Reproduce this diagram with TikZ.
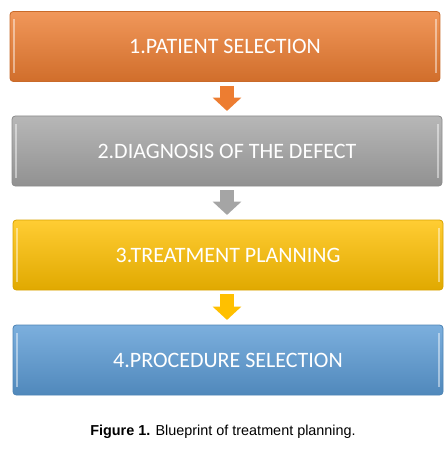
\documentclass[tikz,border=0pt]{standalone}
\usepackage{fontspec}
\setmainfont{Liberation Sans}
\newfontfamily\boxfont{Carlito}
\usetikzlibrary{arrows.meta, positioning}
\definecolor{planorange}{RGB}{237,125,49}
\definecolor{plangray}{RGB}{165,165,165}
\definecolor{planyellow}{RGB}{255,192,0}
\definecolor{planblue}{RGB}{91,155,213}
\tikzset{
	planbox/.style={rounded corners=2.5pt, minimum width=322.5pt, minimum height=52.5pt,
		draw=#1!85!black, line width=0.6pt, top color=#1!80!white, middle color=#1, bottom color=#1!88!black,
		text=white, font=\boxfont\fontsize{16.5}{19}\selectfont,
		path picture={
			\draw[white, opacity=0.45, line width=1.2pt]
				([xshift=3pt, yshift=-6pt]path picture bounding box.north west) --
				([xshift=3pt, yshift=6pt]path picture bounding box.south west);
			\draw[white, opacity=0.45, line width=1.2pt]
				([xshift=-3pt, yshift=-6pt]path picture bounding box.north east) --
				([xshift=-3pt, yshift=6pt]path picture bounding box.south east);
		}}
}
\tikzset{
	blockarrow/.style={draw=#1, line width=10.5pt, -{Triangle[width=21pt, length=10pt]},
		shorten <=3pt, shorten >=3.5pt}
}

\begin{document}
\begin{tikzpicture}[x=0.75pt, y=-0.75pt]
      \useasboundingbox[fill=white] (0,0) rectangle (448,449);
      % steps
      \node[planbox=planorange] (patient) at (225,46.5) {1.PATIENT SELECTION};
      \node[planbox=plangray] (diagnosis) at (227,151) {2.DIAGNOSIS OF THE DEFECT};
      \node[planbox=planyellow] (treatment) at (228,255) {3.TREATMENT PLANNING};
      \node[planbox=planblue] (procedure) at (228,360) {4.PROCEDURE SELECTION};
      % arrows
      \draw[blockarrow=planorange] (patient.south -| diagnosis.north) -- (diagnosis.north);
      \draw[blockarrow=plangray] (diagnosis.south) -- (treatment.north -| diagnosis.south);
      \draw[blockarrow=planyellow] (treatment.south -| diagnosis.south) -- (procedure.north -| diagnosis.south);
      % caption
      \node[font=\fontsize{10.8}{13}\selectfont] (caption) at (223,432) {\textbf{Figure 1.} Blueprint of treatment planning.};
    \end{tikzpicture}
\end{document}
